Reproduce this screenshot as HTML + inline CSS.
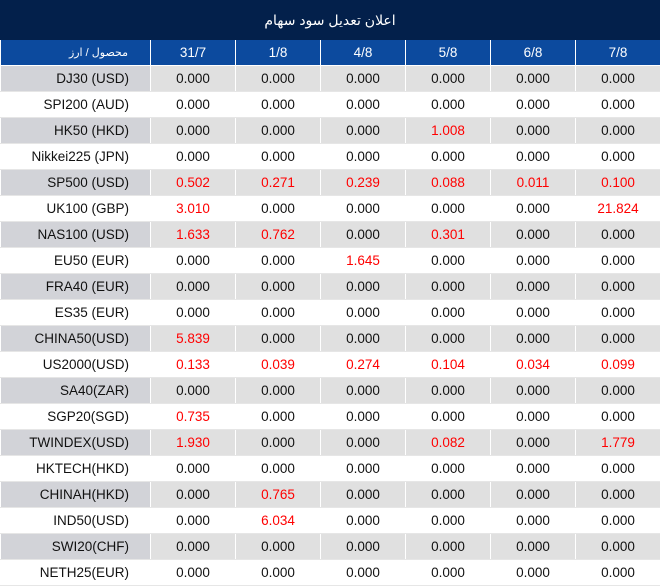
<!DOCTYPE html>
<html><head><meta charset="utf-8"><style>
body{margin:0;width:660px;height:587px;overflow:hidden;background:#fff;font-family:"Liberation Sans","DejaVu Sans",sans-serif;}
.title{height:40px;background:#03204b;color:#fff;font-size:14px;line-height:40px;text-align:center;font-family:"Liberation Sans","DejaVu Sans",sans-serif;}
table{border-collapse:collapse;table-layout:fixed;width:660px;}
td,th{height:25px;padding:0;border:1px solid #fff;border-top:none;border-bottom:1px solid #e6e6e6;font-size:13.5px;text-align:center;color:#111;font-weight:normal;}
th{background:#0c4a9e;color:#fff;border-bottom:1px solid #fff;}
th.f{text-align:right;padding-right:22px;font-size:11px;}
td.f{text-align:right;padding-right:21px;}
tr.g td{background:#e0e0e0;}
tr.g td.f{background:#d2d3d8;}
.r{color:#f00;}
</style></head><body>
<div class="title">اعلان تعدیل سود سهام</div>
<table>
<colgroup><col style="width:150px"><col style="width:85px"><col style="width:85px"><col style="width:85px"><col style="width:85px"><col style="width:85px"><col style="width:85px"></colgroup>
<tr><th class="f">محصول / ارز</th><th>31/7</th><th>1/8</th><th>4/8</th><th>5/8</th><th>6/8</th><th>7/8</th></tr>
<tr class="g"><td class="f">DJ30 (USD)</td><td>0.000</td><td>0.000</td><td>0.000</td><td>0.000</td><td>0.000</td><td>0.000</td></tr>
<tr><td class="f">SPI200 (AUD)</td><td>0.000</td><td>0.000</td><td>0.000</td><td>0.000</td><td>0.000</td><td>0.000</td></tr>
<tr class="g"><td class="f">HK50 (HKD)</td><td>0.000</td><td>0.000</td><td>0.000</td><td class="r">1.008</td><td>0.000</td><td>0.000</td></tr>
<tr><td class="f">Nikkei225 (JPN)</td><td>0.000</td><td>0.000</td><td>0.000</td><td>0.000</td><td>0.000</td><td>0.000</td></tr>
<tr class="g"><td class="f">SP500 (USD)</td><td class="r">0.502</td><td class="r">0.271</td><td class="r">0.239</td><td class="r">0.088</td><td class="r">0.011</td><td class="r">0.100</td></tr>
<tr><td class="f">UK100 (GBP)</td><td class="r">3.010</td><td>0.000</td><td>0.000</td><td>0.000</td><td>0.000</td><td class="r">21.824</td></tr>
<tr class="g"><td class="f">NAS100 (USD)</td><td class="r">1.633</td><td class="r">0.762</td><td>0.000</td><td class="r">0.301</td><td>0.000</td><td>0.000</td></tr>
<tr><td class="f">EU50 (EUR)</td><td>0.000</td><td>0.000</td><td class="r">1.645</td><td>0.000</td><td>0.000</td><td>0.000</td></tr>
<tr class="g"><td class="f">FRA40 (EUR)</td><td>0.000</td><td>0.000</td><td>0.000</td><td>0.000</td><td>0.000</td><td>0.000</td></tr>
<tr><td class="f">ES35 (EUR)</td><td>0.000</td><td>0.000</td><td>0.000</td><td>0.000</td><td>0.000</td><td>0.000</td></tr>
<tr class="g"><td class="f">CHINA50(USD)</td><td class="r">5.839</td><td>0.000</td><td>0.000</td><td>0.000</td><td>0.000</td><td>0.000</td></tr>
<tr><td class="f">US2000(USD)</td><td class="r">0.133</td><td class="r">0.039</td><td class="r">0.274</td><td class="r">0.104</td><td class="r">0.034</td><td class="r">0.099</td></tr>
<tr class="g"><td class="f">SA40(ZAR)</td><td>0.000</td><td>0.000</td><td>0.000</td><td>0.000</td><td>0.000</td><td>0.000</td></tr>
<tr><td class="f">SGP20(SGD)</td><td class="r">0.735</td><td>0.000</td><td>0.000</td><td>0.000</td><td>0.000</td><td>0.000</td></tr>
<tr class="g"><td class="f">TWINDEX(USD)</td><td class="r">1.930</td><td>0.000</td><td>0.000</td><td class="r">0.082</td><td>0.000</td><td class="r">1.779</td></tr>
<tr><td class="f">HKTECH(HKD)</td><td>0.000</td><td>0.000</td><td>0.000</td><td>0.000</td><td>0.000</td><td>0.000</td></tr>
<tr class="g"><td class="f">CHINAH(HKD)</td><td>0.000</td><td class="r">0.765</td><td>0.000</td><td>0.000</td><td>0.000</td><td>0.000</td></tr>
<tr><td class="f">IND50(USD)</td><td>0.000</td><td class="r">6.034</td><td>0.000</td><td>0.000</td><td>0.000</td><td>0.000</td></tr>
<tr class="g"><td class="f">SWI20(CHF)</td><td>0.000</td><td>0.000</td><td>0.000</td><td>0.000</td><td>0.000</td><td>0.000</td></tr>
<tr><td class="f">NETH25(EUR)</td><td>0.000</td><td>0.000</td><td>0.000</td><td>0.000</td><td>0.000</td><td>0.000</td></tr>
</table>
</body></html>
